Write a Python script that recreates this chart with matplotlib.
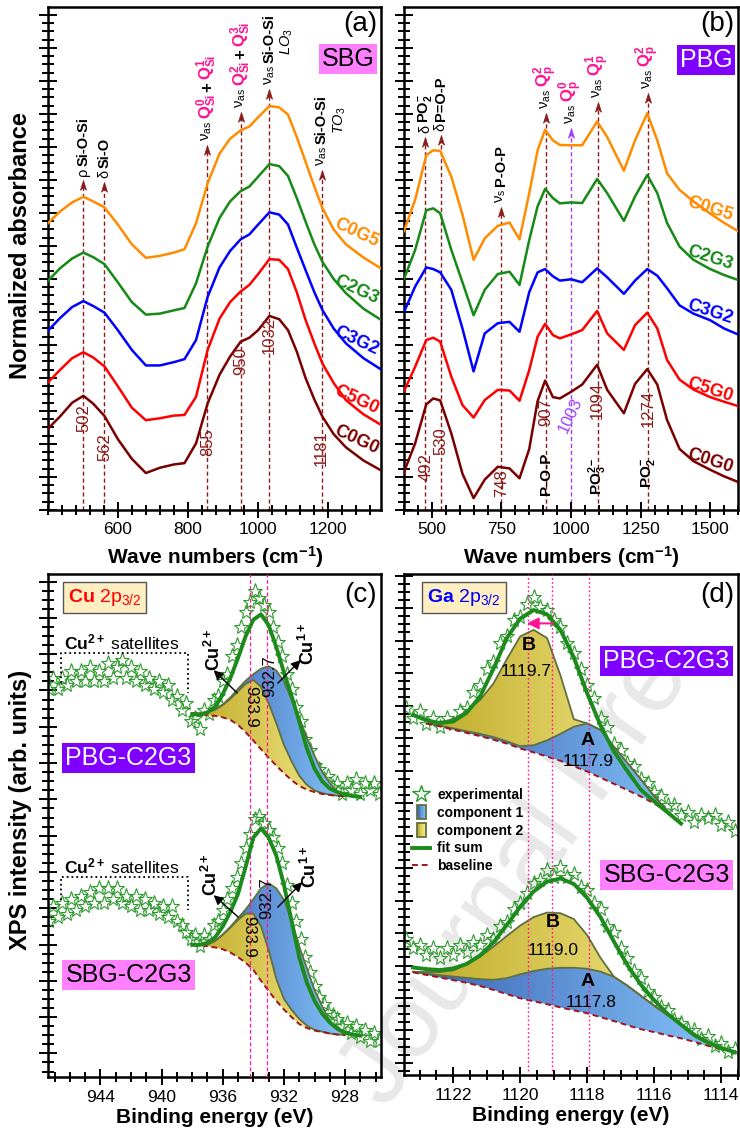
import numpy as np
import matplotlib
matplotlib.use('Agg')
import matplotlib.pyplot as plt
from matplotlib.colors import LinearSegmentedColormap, to_rgb
from matplotlib.path import Path
from matplotlib.lines import Line2D
from matplotlib.patches import Rectangle, Polygon
from matplotlib.legend_handler import HandlerBase
from matplotlib.ticker import MultipleLocator, FixedLocator

plt.rcParams['font.family'] = ['Liberation Sans', 'DejaVu Sans']
plt.rcParams['mathtext.fontset'] = 'custom'
plt.rcParams['mathtext.rm'] = 'Liberation Sans'
plt.rcParams['mathtext.it'] = 'Liberation Sans:italic'
plt.rcParams['mathtext.bf'] = 'Liberation Sans:bold'

# ---------------- FTIR data (offset, arbitrary units) ----------------
SAMPLES = ['C0G5', 'C2G3', 'C3G2', 'C5G0', 'C0G0']

WN_SBG = [400, 435, 470, 502, 530, 562, 600, 640, 680, 720, 760, 790, 823, 856, 890,
          920, 950, 975, 1000, 1032, 1060, 1085, 1110, 1135, 1160, 1183, 1215, 1250, 1300, 1350]
SBG_C0G5 = [8.68, 9.04, 9.32, 9.49, 9.35, 9.17, 8.65, 8.05, 7.64, 7.70, 7.80, 7.90, 8.69, 9.90, 10.8,
            11.25, 11.5, 11.62, 11.9, 12.24, 12.2, 11.98, 11.3, 10.55, 9.8, 9.15, 8.5, 8.05, 7.65, 7.32]
SBG_C2G3 = [6.93, 7.32, 7.62, 7.80, 7.66, 7.45, 6.90, 6.30, 5.92, 5.95, 6.05, 6.12, 6.87, 7.98, 8.85,
            9.35, 9.66, 9.80, 10.1, 10.48, 10.42, 10.12, 9.45, 8.74, 8.05, 7.52, 7.0, 6.57, 6.1, 5.76]
SBG_C3G2 = [5.42, 5.81, 6.15, 6.33, 6.18, 5.98, 5.45, 4.85, 4.38, 4.38, 4.48, 4.57, 5.15, 6.46, 7.35,
            7.85, 8.20, 8.35, 8.65, 9.02, 8.95, 8.65, 7.95, 7.27, 6.6, 6.06, 5.5, 5.05, 4.6, 4.26]
SBG_C5G0 = [3.85, 4.24, 4.60, 4.78, 4.62, 4.35, 3.75, 3.10, 2.72, 2.78, 2.86, 2.88, 3.43, 4.85, 5.8,
            6.30, 6.62, 6.82, 7.15, 7.60, 7.58, 7.30, 6.6, 5.76, 5.05, 4.44, 3.85, 3.33, 2.9, 2.58]
SBG_C0G0 = [2.45, 2.83, 3.25, 3.46, 3.22, 2.85, 2.15, 1.55, 1.12, 1.28, 1.38, 1.42, 2.02, 3.23, 4.1,
            4.65, 5.10, 5.22, 5.45, 5.88, 5.78, 5.45, 4.8, 4.0, 3.35, 2.83, 2.3, 1.9, 1.5, 1.2]

WN_PBG = [400, 440, 480, 505, 530, 570, 610, 650, 690, 737, 779, 815, 850, 880, 907, 935, 960,
          1000, 1040, 1094, 1130, 1190, 1230, 1274, 1310, 1345, 1390, 1440, 1500, 1550, 1600]
PBG_C0G5 = [8.45, 9.4, 10.75, 10.9, 10.88, 10.1, 8.95, 7.58, 8.23, 8.61, 8.71, 8.2, 9.6, 10.9, 11.52, 11.2, 11.06,
            11.05, 11.05, 11.77, 11.3, 10.28, 11.2, 12.02, 11.2, 10.2, 9.7, 9.35, 8.98, 8.7, 8.45]
PBG_C2G3 = [7.0, 7.88, 9.08, 9.14, 8.99, 7.88, 6.9, 5.9, 6.67, 7.15, 7.22, 6.82, 8.18, 9.2, 9.73, 9.45, 9.29,
            9.32, 9.3, 10.03, 9.6, 8.76, 9.5, 10.15, 9.6, 8.7, 7.98, 7.58, 7.3, 7.12, 6.97]
PBG_C3G2 = [6.0, 6.77, 7.35, 7.3, 7.2, 6.67, 5.5, 4.2, 5.35, 5.66, 5.7, 5.4, 6.6, 7.2, 7.3, 7.08, 6.95,
            6.99, 6.9, 7.32, 7.05, 6.55, 6.95, 7.3, 7.1, 6.72, 6.2, 5.95, 5.75, 5.5, 5.32]
PBG_C5G0 = [3.6, 4.34, 5.15, 5.22, 5.1, 4.04, 3.18, 2.8, 3.33, 3.64, 3.62, 3.31, 4.24, 5.25, 5.64, 5.3, 5.2,
            5.32, 5.45, 6.03, 5.35, 4.85, 5.6, 5.98, 5.5, 4.55, 3.95, 3.65, 3.42, 3.28, 3.15]
PBG_C0G0 = [1.15, 2.02, 3.2, 3.38, 3.32, 2.32, 1.1, 0.36, 0.92, 1.31, 1.26, 0.96, 1.85, 3.3, 3.92, 3.42, 3.38,
            3.58, 3.8, 4.4, 3.64, 2.93, 3.82, 4.27, 3.8, 2.73, 1.85, 1.48, 1.22, 1.02, 0.85]

SBG_BANDS = [502, 562, 855, 950, 1032, 1181]
PBG_BANDS = ['492', '530', '748', '907', '1003', '1094', '1274']

# ---------------- XPS Cu 2p3/2 ----------------
E_STAR_CU = [947.4, 947.1, 946.8, 946.5, 946.2, 945.9, 945.6, 945.3, 945.0, 944.7, 944.4, 944.1, 943.8,
             943.5, 943.2, 942.9, 942.6, 942.3, 942.0, 941.7, 941.4, 941.1, 940.8, 940.5, 940.2, 939.9,
             939.6, 939.3, 939.0, 938.7, 938.4, 938.1, 937.8, 937.5, 937.2, 936.9, 936.6, 936.3, 936.0,
             935.7, 935.4, 935.1, 934.8, 934.5, 934.2, 933.9, 933.6, 933.3, 933.0, 932.7, 932.4, 932.1,
             931.8, 931.5, 931.2, 930.9, 930.6, 930.3, 930.0, 929.7, 929.4, 929.1, 928.8, 928.5, 928.2,
             927.9, 927.6, 927.3, 927.0, 926.7, 926.4, 926.1, 925.8]
CU_PBG_EXP = [10.7, 11.0, 10.7, 11.0, 10.8, 11.2, 10.9, 11.2, 10.9, 11.3, 10.9, 11.2, 10.9,
              11.4, 11.0, 11.3, 11.5, 11.0, 11.3, 10.9, 11.2, 10.8, 11.0, 10.7, 10.9, 10.6,
              10.8, 10.4, 10.5, 10.1, 10.3, 9.8, 9.9, 9.6, 10.1, 10.0, 10.4, 10.5, 10.9,
              11.1, 11.6, 11.9, 12.4, 12.8, 13.1, 13.4, 13.2, 13.0, 12.8, 12.4, 12.0, 11.6,
              11.1, 10.7, 10.2, 9.8, 9.3, 9.0, 8.6, 8.5, 8.2, 8.3, 8.0, 8.1, 7.8,
              8.1, 7.9, 8.2, 7.8, 8.1, 7.9, 8.1, 7.8]
CU_SBG_EXP = [4.3, 4.7, 4.4, 4.8, 4.5, 4.9, 4.6, 5.0, 4.7, 5.1, 4.8, 5.2, 4.8,
              5.2, 4.9, 5.2, 4.8, 5.0, 4.7, 5.0, 4.6, 4.9, 4.6, 4.8, 4.5, 4.7,
              4.4, 4.7, 4.3, 4.2, 4.0, 3.8, 3.9, 3.6, 3.9, 3.8, 4.2, 4.3, 4.6,
              4.9, 5.2, 5.5, 5.9, 6.3, 6.7, 7.1, 7.2, 7.0, 6.8, 6.6, 6.3, 5.9,
              5.3, 4.8, 4.3, 3.8, 3.3, 2.9, 2.5, 2.2, 2.0, 1.8, 1.7, 1.6, 1.4,
              1.5, 1.2, 1.4, 1.1, 1.3, 1.0, 1.2, 1.0]

E_FIT_CU = [938.0, 937.5, 937.0, 936.5, 936.0, 935.5, 935.0, 934.5, 934.0, 933.5, 933.0, 932.5,
            932.0, 931.5, 931.0, 930.5, 930.0, 929.5, 929.0, 928.5, 928.0, 927.5, 927.0]
CU_PBG_FIT = [10.0, 9.98, 10.05, 10.2, 10.55, 11.0, 11.55, 12.15, 12.6, 12.75, 12.45, 11.85,
              11.15, 10.5, 9.8, 9.05, 8.5, 8.15, 7.95, 7.85, 7.78, 7.74, 7.72]
CU_SBG_FIT = [3.64, 3.64, 3.7, 3.85, 4.15, 4.55, 5.05, 5.8, 6.6, 6.85, 6.6, 6.1,
              5.3, 4.3, 3.3, 2.6, 2.1, 1.75, 1.5, 1.33, 1.22, 1.17, 1.14]

E_CMP_CU = [938.0, 937.5, 937.0, 936.5, 936.0, 935.5, 935.0, 934.5, 934.0, 933.5, 933.0,
            932.5, 932.0, 931.5, 931.0, 930.5, 930.0, 929.5, 929.0, 928.5, 928.0]
CU_PBG_BASE = [10.02, 10.0, 9.97, 9.95, 9.91, 9.84, 9.70, 9.5, 9.27, 9.03, 8.8,
               8.58, 8.37, 8.18, 8.02, 7.92, 7.85, 7.8, 7.77, 7.75, 7.74]
CU_PBG_C2 = [10.02, 10.02, 10.05, 10.12, 10.25, 10.42, 10.63, 10.83, 10.94, 10.75, 10.3,
             9.75, 9.15, 8.7, 8.3, 8.05, 7.9, 7.82, 7.78, 7.75, 7.74]
CU_PBG_C1 = [10.02, 10.02, 10.05, 10.13, 10.27, 10.46, 10.7, 10.92, 11.1, 11.25, 11.32,
             11.2, 10.9, 10.4, 9.9, 9.35, 8.85, 8.4, 8.1, 7.85, 7.74]
CU_SBG_BASE = [3.66, 3.64, 3.6, 3.57, 3.52, 3.43, 3.3, 3.15, 2.95, 2.65, 2.37,
               2.1, 1.86, 1.65, 1.46, 1.35, 1.28, 1.24, 1.2, 1.17, 1.16]
CU_SBG_C2 = [3.66, 3.64, 3.65, 3.75, 3.92, 4.12, 4.33, 4.5, 4.5, 4.15, 3.5,
             2.7, 2.15, 1.85, 1.6, 1.42, 1.3, 1.25, 1.2, 1.17, 1.16]
CU_SBG_C1 = [3.66, 3.64, 3.65, 3.75, 3.93, 4.14, 4.38, 4.62, 4.9, 5.2, 5.34,
             5.2, 4.88, 4.3, 3.6, 3.0, 2.4, 1.95, 1.55, 1.3, 1.17]

# ---------------- XPS Ga 2p3/2 ----------------
E_STAR_GA = [1123.4, 1123.2, 1123.0, 1122.8, 1122.6, 1122.4, 1122.2, 1122.0, 1121.8, 1121.6,
             1121.4, 1121.2, 1121.0, 1120.8, 1120.6, 1120.4, 1120.2, 1120.0, 1119.8, 1119.6,
             1119.4, 1119.2, 1119.0, 1118.8, 1118.6, 1118.4, 1118.2, 1118.0, 1117.8, 1117.6,
             1117.4, 1117.2, 1117.0, 1116.8, 1116.6, 1116.4, 1116.2, 1116.0, 1115.8, 1115.6,
             1115.4, 1115.2, 1115.0, 1114.8, 1114.6, 1114.4, 1114.2, 1114.0, 1113.8, 1113.6]
GA_PBG_EXP = [11.3, 11.0, 11.2, 10.8, 11.0, 10.7, 11.0, 10.8, 11.2, 11.3,
              11.8, 12.0, 12.5, 12.7, 13.3, 13.5, 14.0, 14.1, 14.5, 14.7,
              14.4, 14.3, 14.0, 13.8, 13.3, 13.0, 12.5, 12.0, 11.6, 11.0,
              10.7, 10.2, 10.0, 9.6, 9.5, 9.1, 9.0, 8.7, 8.6, 8.3,
              8.3, 8.0, 8.1, 7.8, 8.0, 7.9, 8.0, 7.7, 7.8, 7.5]
GA_SBG_EXP = [4.2, 3.9, 4.0, 3.7, 3.9, 3.6, 3.9, 3.7, 4.0, 3.8,
              4.1, 4.0, 4.3, 4.2, 4.6, 4.7, 5.1, 5.3, 5.6, 5.9,
              6.0, 6.3, 6.1, 6.4, 6.1, 6.2, 5.8, 5.7, 5.3, 5.1,
              4.6, 4.4, 3.9, 3.6, 3.2, 3.0, 2.6, 2.4, 2.1, 2.0,
              1.7, 1.6, 1.4, 1.4, 1.1, 1.2, 0.9, 1.0, 0.7, 0.8]

E_FIT_GA_P = [1123.2, 1122.8, 1122.4, 1122.0, 1121.6, 1121.2, 1120.8, 1120.4, 1120.0, 1119.6, 1119.2,
              1118.8, 1118.4, 1118.0, 1117.6, 1117.2, 1116.8, 1116.4, 1116.0, 1115.6, 1115.2]
GA_PBG_FIT = [11.08, 10.92, 10.83, 10.88, 11.15, 11.65, 12.5, 13.45, 14.05, 14.31, 14.18,
              13.7, 12.85, 11.74, 10.75, 9.95, 9.35, 8.78, 8.42, 8.08, 7.74]
E_CMP_GA_P = [1122.8, 1122.4, 1122.0, 1121.6, 1121.2, 1120.8, 1120.4, 1120.0, 1119.6, 1119.2,
              1118.8, 1118.4, 1118.0, 1117.6, 1117.2, 1116.8, 1116.4, 1116.0, 1115.6, 1115.2]
GA_PBG_BASE = [10.82, 10.73, 10.63, 10.53, 10.43, 10.32, 10.2, 10.05, 9.93, 9.8,
               9.67, 9.5, 9.34, 9.15, 8.96, 8.77, 8.57, 8.36, 8.08, 7.74]
GA_PBG_A = [10.82, 10.75, 10.67, 10.58, 10.5, 10.4, 10.27, 10.12, 10.15, 10.3,
            10.5, 10.72, 10.82, 10.62, 10.1, 9.6, 9.1, 8.58, 8.12, 7.74]
GA_PBG_B = [10.82, 10.86, 10.95, 11.2, 11.54, 12.05, 12.8, 13.5, 13.7, 13.45,
            12.3, 10.95, 10.82, 10.62, 10.1, 9.6, 9.1, 8.58, 8.12, 7.74]

E_FIT_GA_S = [1123.2, 1122.8, 1122.4, 1122.0, 1121.6, 1121.2, 1120.8, 1120.4, 1120.0, 1119.6, 1119.2,
              1118.8, 1118.4, 1118.0, 1117.6, 1117.2, 1116.8, 1116.4, 1116.0, 1115.6, 1115.2,
              1114.8, 1114.4, 1114.0, 1113.6]
GA_SBG_FIT = [3.31, 3.26, 3.23, 3.28, 3.42, 3.68, 4.08, 4.62, 5.18, 5.65, 5.95,
              6.05, 5.88, 5.45, 4.85, 4.1, 3.38, 2.78, 2.3, 1.88, 1.55,
              1.22, 1.0, 0.83, 0.7]
E_CMP_GA_S = [1123.2, 1122.8, 1122.4, 1122.0, 1121.6, 1121.2, 1120.8, 1120.4, 1120.0, 1119.6,
              1119.2, 1118.8, 1118.4, 1118.0, 1117.6, 1117.2, 1116.8, 1116.4, 1116.0, 1115.6,
              1115.2, 1114.8, 1114.4, 1114.0]
GA_SBG_BASE = [3.16, 3.08, 3.0, 2.92, 2.84, 2.74, 2.62, 2.49, 2.36, 2.27,
               2.18, 2.08, 1.99, 1.9, 1.78, 1.66, 1.53, 1.41, 1.32, 1.22,
               1.13, 1.02, 0.9, 0.8]
GA_SBG_A = [3.17, 3.12, 3.07, 3.03, 2.99, 2.95, 2.93, 2.98, 3.1, 3.2,
            3.27, 3.3, 3.3, 3.27, 3.18, 3.02, 2.75, 2.44, 2.13, 1.84,
            1.55, 1.27, 1.02, 0.8]
GA_SBG_B = [3.18, 3.17, 3.17, 3.22, 3.4, 3.64, 3.95, 4.28, 4.6, 4.86,
            5.0, 4.98, 4.8, 4.3, 3.6, 3.02, 2.75, 2.44, 2.13, 1.84,
            1.55, 1.27, 1.02, 0.8]

# ---------------- styles ----------------
C_SAMPLE = ['#FF8C00', '#168A16', '#0000FF', '#FF0000', '#7A0000']
DRED = '#8B1A1A'
PINK = '#FF1493'
VIOLET = '#A040FF'
FIT_GREEN = '#1C8A1C'
STAR_GREEN = '#2E9A2E'
EDGE = '#5F7040'
BLUE_GRAD = ('#3A64B4', '#84C2F8')
YEL_GRAD = ('#BFAA28', '#F7EE90')
NU_AS = r'$\mathrm{\nu_{as}}$'
NU_S = r'$\mathrm{\nu_{s}}$'

fig = plt.figure(figsize=(7.4, 11.41), dpi=100)
fig.text(0.699, 0.2314, 'Journal Pre', rotation=55, fontsize=75, color='#E8E8E8',
         ha='center', va='center', zorder=-1)

axA = fig.add_axes([47.6 / 740, 631 / 1141, 333.4 / 740, 503 / 1141], facecolor='none')
axB = fig.add_axes([404 / 740, 631 / 1141, 334 / 740, 503 / 1141], facecolor='none')
axC = fig.add_axes([47.6 / 740, 64 / 1141, 333.4 / 740, 503 / 1141], facecolor='none')
axD = fig.add_axes([404 / 740, 66 / 1141, 334 / 740, 501 / 1141], facecolor='none')

LIMS = {axA: ((400, 1350), (0, 15.24)), axB: ((400, 1600), (0, 15.24)),
        axC: ((947.46, 925.65), (0, 13.86)), axD: ((1123.47, 1113.5), (0, 15.42))}
for ax, (xl, yl) in LIMS.items():
    ax.set_xlim(*xl)
    ax.set_ylim(*yl)

STEALTH = Path([(0, 0), (0.5, -1.6), (0, -1.15), (-0.5, -1.6), (0, 0)],
               [Path.MOVETO, Path.LINETO, Path.LINETO, Path.LINETO, Path.CLOSEPOLY])


def band(ax, x, tip, color=DRED):
    ax.plot([x, x], [0, tip - 0.2], color=color, lw=1.0, ls=(0, (3, 2)), zorder=1)
    ax.plot([x], [tip], marker=STEALTH, ms=14, color=color, mec=color, mew=0.5, ls='none', zorder=4)


def stack(ax, x, y, parts, size=10.5, gap=2.0):
    r = fig.canvas.get_renderer()
    inv = ax.transData.inverted()
    for s, c, w, *fs in parts:
        t = ax.text(x, y, s, rotation=90, ha='center', va='bottom', color=c,
                    fontsize=fs[0] if fs else size, fontweight=w, zorder=5)
        bb = t.get_window_extent(r)
        y = inv.transform((bb.x0, bb.y1 + gap))[1]


def grad_fill(ax, x, lo, hi, cols, z):
    x, lo, hi = np.asarray(x), np.asarray(lo), np.asarray(hi)
    verts = np.concatenate([np.column_stack([x, lo]), np.column_stack([x[::-1], hi[::-1]])])
    poly = Polygon(verts, closed=True, fc='none', ec='none')
    ax.add_patch(poly)
    cmap = LinearSegmentedColormap.from_list('g', list(cols))
    img = ax.imshow(np.linspace(0, 1, 256)[None, :], cmap=cmap, aspect='auto',
                    extent=(x.max(), x.min(), lo.min(), hi.max()), origin='lower',
                    zorder=z, interpolation='bilinear')
    img.set_clip_path(poly)


def style(ax, xmaj, xmin, ymaj, ymin):
    for s in ax.spines.values():
        s.set_linewidth(1.8)
    ax.xaxis.set_major_locator(xmaj)
    ax.xaxis.set_minor_locator(xmin)
    ax.yaxis.set_major_locator(ymaj)
    ax.yaxis.set_minor_locator(ymin)
    ax.tick_params(which='both', direction='inout', width=1.4, top=False, right=False)
    ax.tick_params(axis='x', which='major', length=12, labelsize=12.5, pad=3)
    ax.tick_params(axis='x', which='minor', length=7)
    ax.tick_params(axis='y', which='major', length=13, labelleft=False)
    ax.tick_params(axis='y', which='minor', length=8)


def corner_box(ax, x, y, s, fc, tc, size=18):
    ax.text(x, y, s, transform=ax.transAxes, ha='center', va='center', fontsize=size, color=tc,
            bbox=dict(boxstyle='square,pad=0.12', fc=fc, ec='none'), zorder=8)


Q_SIZE = 12

# ================= (a) SBG FTIR =================
for name, col, ys in zip(SAMPLES, C_SAMPLE, [SBG_C0G5, SBG_C2G3, SBG_C3G2, SBG_C5G0, SBG_C0G0]):
    axA.plot(WN_SBG, ys, color=col, lw=1.8, zorder=3)
for name, col, y in zip(SAMPLES, C_SAMPLE, [8.39, 6.67, 5.12, 3.33, 2.12]):
    axA.text(1281, y, name, color=col, fontsize=13, fontweight='bold', rotation=-25,
             ha='center', va='center', zorder=6)

for x, tip in zip(SBG_BANDS, [10.0, 9.94, 11.05, 12.05, 12.75, 10.3]):
    band(axA, x, tip)
stack(axA, 502, 10.12, [('ρ', 'k', 'normal'), ('Si-O-Si', 'k', 'bold')])
stack(axA, 562, 10.06, [('δ', 'k', 'normal'), ('Si-O', 'k', 'bold')])
stack(axA, 855, 11.17, [(NU_AS, 'k', 'normal'), (r'$\mathbf{Q^{0}_{Si}}$', PINK, 'bold', Q_SIZE),
                        ('+', 'k', 'bold', Q_SIZE), (r'$\mathbf{Q^{1}_{Si}}$', PINK, 'bold', Q_SIZE)])
stack(axA, 950, 12.17, [(NU_AS, 'k', 'normal'), (r'$\mathbf{Q^{2}_{Si}}$', PINK, 'bold', Q_SIZE),
                        ('+', 'k', 'bold', Q_SIZE), (r'$\mathbf{Q^{3}_{Si}}$', PINK, 'bold', Q_SIZE)])
stack(axA, 1032, 12.87, [(NU_AS, 'k', 'normal'), ('Si-O-Si', 'k', 'bold')])
axA.text(1083, 14.19, r'$\mathit{LO}_{3}$', rotation=90, ha='center', va='center', fontsize=10.5)
stack(axA, 1181, 10.42, [(NU_AS, 'k', 'normal'), ('Si-O-Si', 'k', 'bold')])
axA.text(1232, 11.8, r'$\mathit{TO}_{3}$', rotation=90, ha='center', va='center', fontsize=10.5)
for x, y in zip(SBG_BANDS, [2.8, 1.9, 2.06, 4.5, 5.3, 1.87]):
    axA.text(x, y, str(x), rotation=90, ha='center', va='center', color=DRED, fontsize=12, zorder=6)

style(axA, FixedLocator([600, 800, 1000, 1200]), MultipleLocator(40), MultipleLocator(1),
      MultipleLocator(0.25))
axA.set_ylabel('Normalized absorbance', fontsize=17, fontweight='bold')
axA.yaxis.set_label_coords(-0.047, 0.525)
axA.set_xlabel(r'Wave numbers (cm$^{\mathbf{-1}}$)', fontsize=15, fontweight='bold')
axA.xaxis.set_label_coords(0.502, -0.068)
axA.text(0.988, 0.993, '(a)', transform=axA.transAxes, ha='right', va='top', fontsize=20)
corner_box(axA, 0.901, 0.897, 'SBG', '#FF80FF', 'k')

# ================= (b) PBG FTIR =================
for name, col, ys in zip(SAMPLES, C_SAMPLE, [PBG_C0G5, PBG_C2G3, PBG_C3G2, PBG_C5G0, PBG_C0G0]):
    axB.plot(WN_PBG, ys, color=col, lw=1.8, zorder=3)
for name, col, y in zip(SAMPLES, C_SAMPLE, [9.12, 7.64, 6.0, 3.64, 1.48]):
    axB.text(1500, y, name, color=col, fontsize=13, fontweight='bold', rotation=-18,
             ha='center', va='center', zorder=6)

b_x = [475, 532, 749, 909, 1001, 1096, 1276]
b_tip = [11.31, 11.36, 9.19, 12.03, 11.58, 12.36, 12.64]
for lab, x, tip in zip(PBG_BANDS, b_x, b_tip):
    band(axB, x, tip, VIOLET if lab == '1003' else DRED)
stack(axB, 475, 11.43, [('δ', 'k', 'normal'), (r'$\mathbf{PO_{2}^{-}}$', 'k', 'bold')])
stack(axB, 532, 11.48, [('δ', 'k', 'normal'), ('P=O-P', 'k', 'bold')])
stack(axB, 749, 9.31, [(NU_S, 'k', 'normal'), ('P-O-P', 'k', 'bold')])
stack(axB, 909, 12.15, [(NU_AS, 'k', 'normal'), (r'$\mathbf{Q^{2}_{p}}$', PINK, 'bold', Q_SIZE)])
stack(axB, 1001, 11.70, [(NU_AS, 'k', 'normal'), (r'$\mathbf{Q^{0}_{p}}$', PINK, 'bold', Q_SIZE)])
stack(axB, 1096, 12.48, [(NU_AS, 'k', 'normal'), (r'$\mathbf{Q^{1}_{p}}$', PINK, 'bold', Q_SIZE)])
stack(axB, 1276, 12.76, [(NU_AS, 'k', 'normal'), (r'$\mathbf{Q^{2}_{p}}$', PINK, 'bold', Q_SIZE)])
for lab, x, y in zip(PBG_BANDS, [479, 532, 749, 909, 999, 1096, 1276], [1.29, 2.09, 0.82, 2.98, 2.88, 3.33, 3.08]):
    if lab == '1003':
        axB.text(x, y, lab, rotation=65, ha='center', va='center', color=VIOLET, fontsize=12, zorder=6)
    else:
        axB.text(x, y, lab, rotation=90, ha='center', va='center', color=DRED, fontsize=12, zorder=6)
for s, x, y in [('P-O-P', 909, 1.09), (r'$\mathbf{PO_{3}^{2-}}$', 1096, 1.03), (r'$\mathbf{PO_{2}^{-}}$', 1276, 1.12)]:
    axB.text(x, y, s, rotation=90, ha='center', va='center', fontsize=11, fontweight='bold', zorder=6)

style(axB, MultipleLocator(250), MultipleLocator(50), MultipleLocator(1), MultipleLocator(0.25))
axB.set_xlabel(r'Wave numbers (cm$^{\mathbf{-1}}$)', fontsize=15, fontweight='bold')
axB.xaxis.set_label_coords(0.5, -0.068)
axB.text(0.988, 0.993, '(b)', transform=axB.transAxes, ha='right', va='top', fontsize=20)
corner_box(axB, 0.904, 0.895, 'PBG', '#8000FF', 'white')

# ================= (c) Cu 2p3/2 =================
for exp, fit, base, c2, c1 in [(CU_PBG_EXP, CU_PBG_FIT, CU_PBG_BASE, CU_PBG_C2, CU_PBG_C1),
                               (CU_SBG_EXP, CU_SBG_FIT, CU_SBG_BASE, CU_SBG_C2, CU_SBG_C1)]:
    axC.plot(E_STAR_CU, exp, ls='none', marker='*', ms=11, mfc='none', mec=STAR_GREEN, mew=0.8, zorder=2)
    grad_fill(axC, E_CMP_CU, base, c2, YEL_GRAD, 3)
    grad_fill(axC, E_CMP_CU, c2, c1, BLUE_GRAD, 3)
    axC.plot(E_CMP_CU, c2, color=EDGE, lw=1.3, zorder=4)
    axC.plot(E_CMP_CU, c1, color=EDGE, lw=1.3, zorder=4)
    axC.plot(E_CMP_CU, base, color='#A0141E', lw=1.4, ls=(0, (3, 2)), zorder=4)
    axC.plot(E_FIT_CU, fit, color=FIT_GREEN, lw=2.8, zorder=6)
for x in [934.2, 933.1]:
    axC.axvline(x, color=PINK, lw=0.9, ls=(0, (3, 2)), zorder=4.5)

for yb, yt, ylab in [(10.85, 11.68, 11.98), (4.88, 5.51, 5.80)]:
    axC.plot([946.6, 946.6, 938.3, 938.3], [yb, yt, yt, yb - 0.27], ls=':', color='k', lw=1.3, zorder=5)
    axC.text(946.4, ylab, r'$\mathbf{Cu^{2+}}$ satellites', ha='left', va='center', fontsize=12.5, zorder=6)
ap = dict(arrowstyle='-|>', color='k', lw=1.0, mutation_scale=14, shrinkA=0, shrinkB=0)
for (tx, ty), (sx, sy), lab, (lx, ly) in [
        ((936.6, 11.21), (935.05, 10.58), r'$\mathbf{Cu^{2+}}$', (936.6, 11.76)),
        ((930.9, 11.49), (932.4, 10.85), r'$\mathbf{Cu^{1+}}$', (930.4, 11.94)),
        ((936.6, 5.01), (935.0, 4.41), r'$\mathbf{Cu^{2+}}$', (936.75, 5.56)),
        ((930.8, 5.37), (932.4, 4.68), r'$\mathbf{Cu^{1+}}$', (930.3, 5.80))]:
    axC.annotate('', xy=(tx, ty), xytext=(sx, sy), arrowprops=ap, zorder=7)
    axC.text(lx, ly, lab, rotation=90, ha='center', va='center', fontsize=13, zorder=7)
for s, x, y, rot in [('933.9', 934.2, 10.2, -90), ('932.7', 932.9, 11.05, 90),
                     ('933.9', 934.33, 3.87, -90), ('932.7', 933.1, 4.92, 90)]:
    axC.text(x, y, s, rotation=rot, ha='center', va='center', fontsize=12, zorder=7)

style(axC, MultipleLocator(4), MultipleLocator(1), FixedLocator(np.arange(0.65, 13.9, 1.0)),
      FixedLocator(np.arange(0.15, 13.9, 0.25)))
axC.set_ylabel('XPS intensity (arb. units)', fontsize=17, fontweight='bold')
axC.yaxis.set_label_coords(-0.047, 0.531)
axC.set_xlabel('Binding energy (eV)', fontsize=15, fontweight='bold')
axC.xaxis.set_label_coords(0.502, -0.062)
axC.text(0.988, 0.985, '(c)', transform=axC.transAxes, ha='right', va='top', fontsize=20)
axC.text(0.171, 0.953, r'$\mathbf{Cu}$ 2p$_{3/2}$', transform=axC.transAxes, ha='center', va='center',
         fontsize=14, color='#FF0000', bbox=dict(boxstyle='square,pad=0.25', fc='#FFEEC2', ec='#555555', lw=1))
corner_box(axC, 0.243, 0.635, 'PBG-C2G3', '#8000FF', 'white')
corner_box(axC, 0.243, 0.203, 'SBG-C2G3', '#FF80FF', 'k')

# ================= (d) Ga 2p3/2 =================
for e_fit, exp, fit, e_cmp, base, a, b in [
        (E_FIT_GA_P, GA_PBG_EXP, GA_PBG_FIT, E_CMP_GA_P, GA_PBG_BASE, GA_PBG_A, GA_PBG_B),
        (E_FIT_GA_S, GA_SBG_EXP, GA_SBG_FIT, E_CMP_GA_S, GA_SBG_BASE, GA_SBG_A, GA_SBG_B)]:
    axD.plot(E_STAR_GA, exp, ls='none', marker='*', ms=11, mfc='none', mec=STAR_GREEN, mew=0.8, zorder=2)
    grad_fill(axD, e_cmp, base, a, BLUE_GRAD, 3)
    grad_fill(axD, e_cmp, a, b, YEL_GRAD, 3)
    axD.plot(e_cmp, a, color=EDGE, lw=1.3, zorder=4)
    axD.plot(e_cmp, b, color=EDGE, lw=1.3, zorder=4)
    axD.plot(e_cmp, base, color='#A0141E', lw=1.4, ls=(0, (3, 2)), zorder=4)
    axD.plot(e_fit, fit, color=FIT_GREEN, lw=2.8, zorder=6)
for x in [1119.78, 1119.05, 1117.95]:
    axD.axvline(x, color=PINK, lw=1.0, ls=(0, (1.2, 1.8)), zorder=4.5)
axD.annotate('', xy=(1119.8, 13.9), xytext=(1119.02, 13.9),
             arrowprops=dict(arrowstyle='-|>', color=PINK, lw=1.5, mutation_scale=17, shrinkA=0, shrinkB=0),
             zorder=7)
for s, x, y, w in [('B', 1119.76, 13.23, 'bold'), ('1119.7', 1119.83, 12.42, 'normal'),
                   ('A', 1117.98, 10.31, 'bold'), ('1117.9', 1117.98, 9.66, 'normal'),
                   ('B', 1119.03, 4.68, 'bold'), ('1119.0', 1119.03, 3.82, 'normal'),
                   ('A', 1117.99, 2.88, 'bold'), ('1117.8', 1117.9, 2.23, 'normal')]:
    axD.text(x, y, s, ha='center', va='center', fontsize=14 if w == 'bold' else 12.5, fontweight=w, zorder=7)


class GradHandler(HandlerBase):
    def __init__(self, cols):
        super().__init__()
        self.c0, self.c1 = to_rgb(cols[0]), to_rgb(cols[1])

    def create_artists(self, legend, orig_handle, xdescent, ydescent, width, height, fontsize, trans):
        w = width * 0.5
        h = height * 1.45
        x0 = -xdescent + (width - w) / 2
        y0 = -ydescent - (h - height) / 2
        arts = []
        n = 10
        for i in range(n):
            f = i / (n - 1)
            col = tuple(a + (b - a) * f for a, b in zip(self.c0, self.c1))
            arts.append(Rectangle((x0 + i * w / n, y0), w / n + 0.2, h, fc=col, ec='none', transform=trans))
        arts.append(Rectangle((x0, y0), w, h, fc='none', ec=EDGE, lw=1.3, transform=trans))
        return arts


comp1, comp2 = Rectangle((0, 0), 1, 1), Rectangle((0, 0), 1, 1)
handles = [Line2D([], [], ls='none', marker='*', ms=13, mfc='none', mec=STAR_GREEN, mew=1.0),
           comp1, comp2,
           Line2D([], [], color=FIT_GREEN, lw=2.8),
           Line2D([], [], color='#A0141E', lw=1.4, ls=(0, (3, 2)))]
axD.legend(handles, ['experimental', 'component 1', 'component 2', 'fit sum', 'baseline'],
           handler_map={comp1: GradHandler(BLUE_GRAD), comp2: GradHandler(YEL_GRAD)},
           loc='upper left', bbox_to_anchor=(0.0, 0.59), frameon=False,
           prop={'weight': 'bold', 'size': 10}, handlelength=1.3, handletextpad=0.5,
           labelspacing=0.28, borderaxespad=0.2)

style(axD, MultipleLocator(2), MultipleLocator(0.5), FixedLocator(np.arange(0.37, 15.4, 1.0)),
      FixedLocator(np.arange(0.12, 15.4, 0.25)))
axD.set_xlabel('Binding energy (eV)', fontsize=15, fontweight='bold')
axD.xaxis.set_label_coords(0.5, -0.062)
axD.text(0.988, 0.985, '(d)', transform=axD.transAxes, ha='right', va='top', fontsize=20)
axD.text(0.18, 0.953, r'$\mathbf{Ga}$ 2p$_{3/2}$', transform=axD.transAxes, ha='center', va='center',
         fontsize=14, color='#0000FF', bbox=dict(boxstyle='square,pad=0.25', fc='#FFEEC2', ec='#555555', lw=1))
corner_box(axD, 0.786, 0.827, 'PBG-C2G3', '#8000FF', 'white')
corner_box(axD, 0.786, 0.400, 'SBG-C2G3', '#FF80FF', 'k')

for ax, (xl, yl) in LIMS.items():
    ax.set_xlim(*xl)
    ax.set_ylim(*yl)

fig.savefig('out.png', dpi=100)
